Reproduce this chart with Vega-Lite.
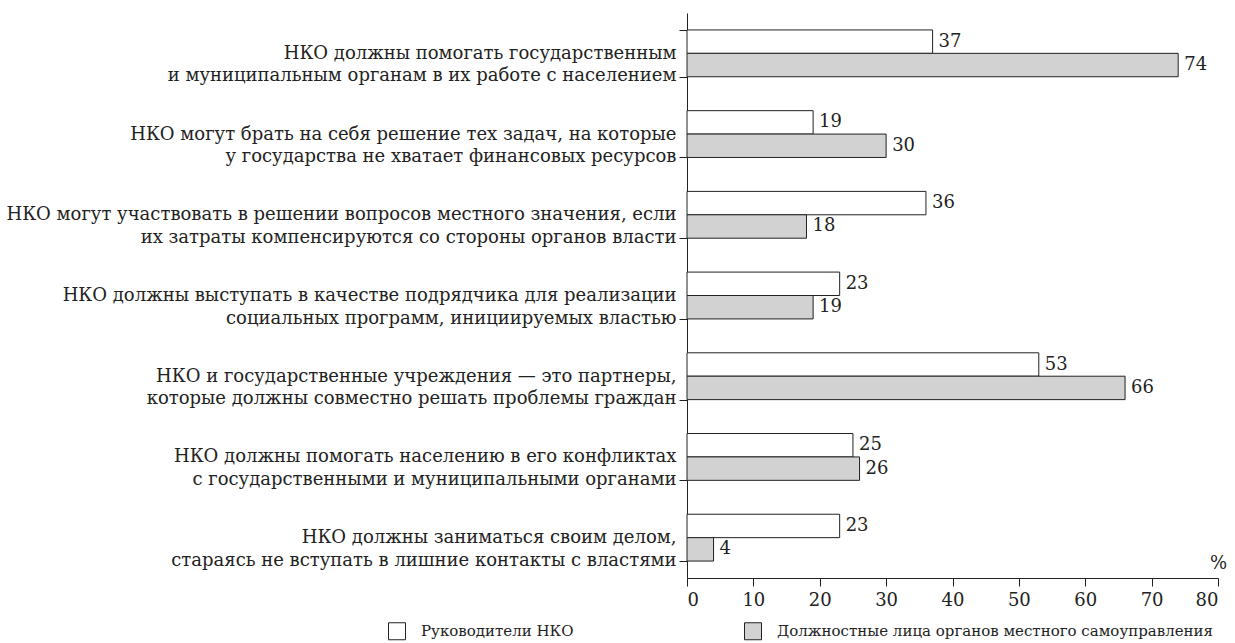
{
  "$schema": "https://vega.github.io/schema/vega-lite/v6.json",
  "autosize": "none",
  "width": 531,
  "height": 565,
  "padding": {"left": 687, "top": 13, "right": 17, "bottom": 65},
  "background": "white",
  "config": {
    "view": {"stroke": null},
    "font": "DejaVu Serif",
    "axis": {"labelFont": "DejaVu Serif", "titleFont": "DejaVu Serif", "domainColor": "#222", "tickColor": "#222", "labelColor": "#222", "titleColor": "#222", "grid": false},
    "legend": {"labelFont": "DejaVu Serif"},
    "text": {"font": "DejaVu Serif"}
  },
  "data": {
    "values": [
      {"cat": "НКО должны помогать государственным|и муниципальным органам в их работе с населением", "group": "Руководители НКО", "value": 37},
      {"cat": "НКО должны помогать государственным|и муниципальным органам в их работе с населением", "group": "Должностные лица органов местного самоуправления", "value": 74},
      {"cat": "НКО могут брать на себя решение тех задач, на которые|у государства не хватает финансовых ресурсов", "group": "Руководители НКО", "value": 19},
      {"cat": "НКО могут брать на себя решение тех задач, на которые|у государства не хватает финансовых ресурсов", "group": "Должностные лица органов местного самоуправления", "value": 30},
      {"cat": "НКО могут участвовать в решении вопросов местного значения, если|их затраты компенсируются со стороны органов власти", "group": "Руководители НКО", "value": 36},
      {"cat": "НКО могут участвовать в решении вопросов местного значения, если|их затраты компенсируются со стороны органов власти", "group": "Должностные лица органов местного самоуправления", "value": 18},
      {"cat": "НКО должны выступать в качестве подрядчика для реализации|социальных программ, инициируемых властью", "group": "Руководители НКО", "value": 23},
      {"cat": "НКО должны выступать в качестве подрядчика для реализации|социальных программ, инициируемых властью", "group": "Должностные лица органов местного самоуправления", "value": 19},
      {"cat": "НКО и государственные учреждения — это партнеры,|которые должны совместно решать проблемы граждан", "group": "Руководители НКО", "value": 53},
      {"cat": "НКО и государственные учреждения — это партнеры,|которые должны совместно решать проблемы граждан", "group": "Должностные лица органов местного самоуправления", "value": 66},
      {"cat": "НКО должны помогать населению в его конфликтах|с государственными и муниципальными органами", "group": "Руководители НКО", "value": 25},
      {"cat": "НКО должны помогать населению в его конфликтах|с государственными и муниципальными органами", "group": "Должностные лица органов местного самоуправления", "value": 26},
      {"cat": "НКО должны заниматься своим делом,|стараясь не вступать в лишние контакты с властями", "group": "Руководители НКО", "value": 23},
      {"cat": "НКО должны заниматься своим делом,|стараясь не вступать в лишние контакты с властями", "group": "Должностные лица органов местного самоуправления", "value": 4}
    ]
  },
  "encoding": {
    "y": {
      "field": "cat", "type": "nominal", "sort": null,
      "scale": {"paddingInner": 0.42, "paddingOuter": 0.21},
      "axis": {
        "title": null, "tickBand": "extent", "tickSize": 8, "labelPadding": 3,
        "labelExpr": "split(datum.label, '|')", "labelFontSize": 18, "labelLineHeight": 22.5,
        "labelLimit": 0, "labelBaseline": "middle"
      }
    },
    "yOffset": {"field": "group", "type": "nominal", "sort": ["Руководители НКО", "Должностные лица органов местного самоуправления"], "scale": {"paddingInner": 0, "paddingOuter": 0}},
    "x": {
      "field": "value", "type": "quantitative",
      "scale": {"domain": [0, 80], "nice": false},
      "axis": {
        "values": [0, 10, 20, 30, 40, 50, 60, 70, 80], "tickSize": 8, "labelPadding": 5,
        "labelFontSize": 18, "title": "%", "titleFontSize": 18, "titleFontWeight": "normal",
        "titleX": 531, "titleY": -6, "titleAlign": "center", "titleBaseline": "bottom"
      }
    }
  },
  "layer": [
    {
      "mark": {"type": "bar", "stroke": "#222", "strokeWidth": 1},
      "encoding": {
        "fill": {
          "field": "group", "type": "nominal",
          "scale": {"domain": ["Руководители НКО", "Должностные лица органов местного самоуправления"], "range": ["#ffffff", "#d2d2d2"]},
          "legend": {
            "title": null, "orient": "none", "direction": "horizontal", "legendX": -299, "legendY": 609,
            "symbolType": "square", "symbolSize": 289, "symbolStrokeColor": "#222", "symbolStrokeWidth": 1,
            "labelFontSize": 15, "labelOffset": 15, "columnPadding": 168, "labelLimit": 0, "labelColor": "#222"
          }
        }
      }
    },
    {
      "mark": {"type": "text", "align": "left", "baseline": "middle", "dx": 6, "fontSize": 18, "color": "#222", "font": "DejaVu Serif"},
      "encoding": {"text": {"field": "value", "type": "quantitative"}}
    }
  ]
}
